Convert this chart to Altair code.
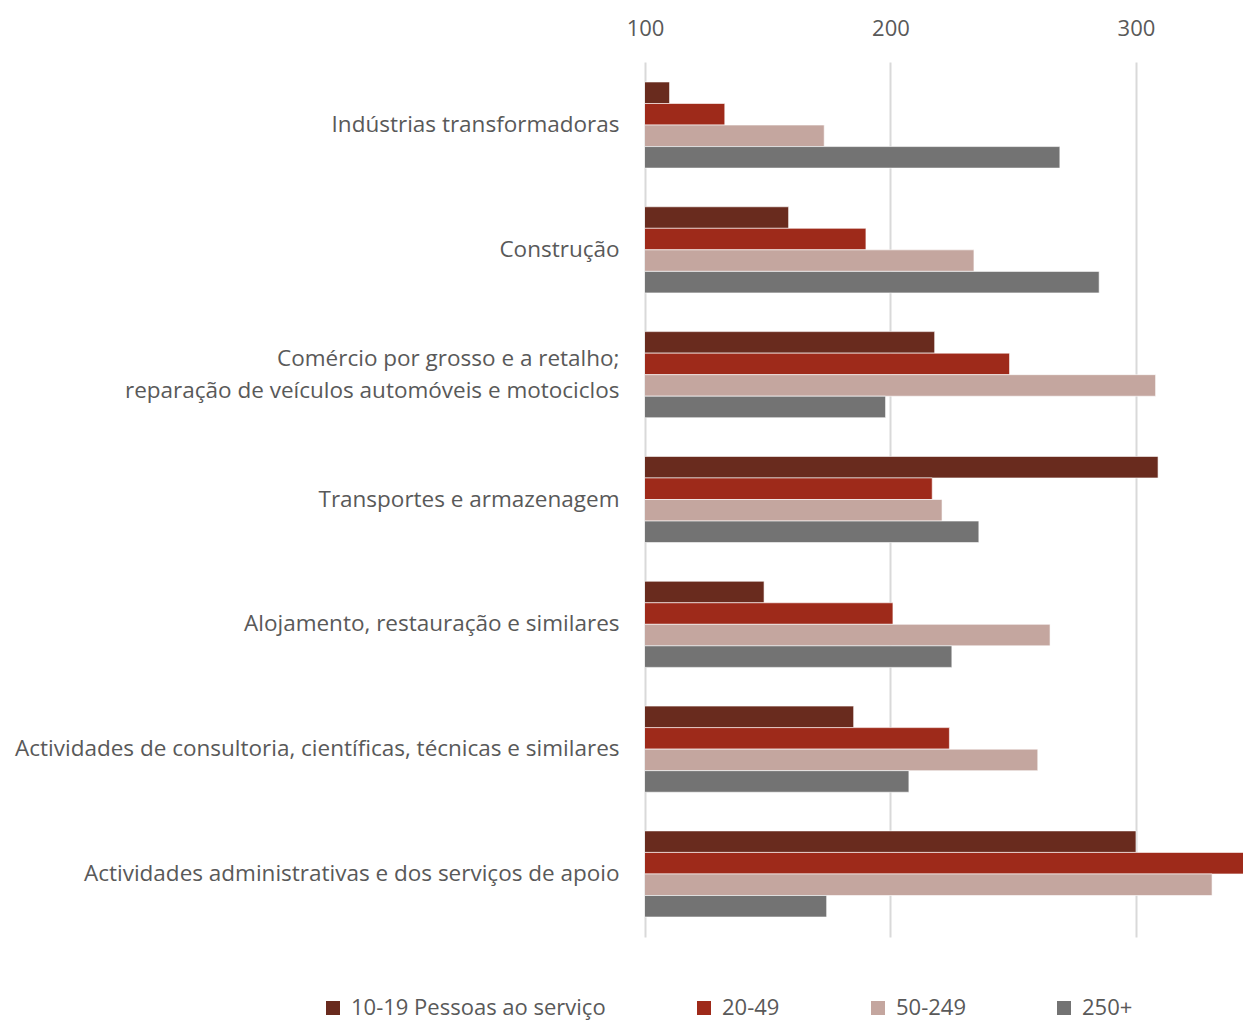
import altair as alt
import pandas as pd

categories = [
    "Indústrias transformadoras",
    "Construção",
    "Comércio por grosso e a retalho;|reparação de veículos automóveis e motociclos",
    "Transportes e armazenagem",
    "Alojamento, restauração e similares",
    "Actividades de consultoria, científicas, técnicas e similares",
    "Actividades administrativas e dos serviços de apoio",
]
series = ["10-19 Pessoas ao serviço", "20-49", "50-249", "250+"]
values_10_19 = [110, 158.5, 218, 309, 148.5, 185, 300]
values_20_49 = [132.5, 190, 248.5, 217, 201, 224, 348]
values_50_249 = [173, 234, 308, 221, 265, 260, 331]
values_250 = [269, 285, 198, 236, 225, 207.5, 174]
colors = ["#692B1E", "#9E2A1A", "#C4A69F", "#737373"]

rows = []
for s, vals in zip(series, [values_10_19, values_20_49, values_50_249, values_250]):
    for c, v in zip(categories, vals):
        rows.append({"cat": c, "series": s, "value": v})
df = pd.DataFrame(rows)

font = "Open Sans"
txt = "#595959"

chart = alt.Chart(df).mark_bar(clip=True, stroke="white", strokeWidth=0.6).encode(
    y=alt.Y("cat:N", sort=categories, title=None,
            scale=alt.Scale(paddingInner=0.31, paddingOuter=0.16),
            axis=alt.Axis(labelExpr="split(datum.label, '|')", labelFontSize=22.5,
                          labelColor=txt, labelFont=font, labelPadding=26,
                          labelOffset={"condition": {"test": "indexof(datum.label, '|') >= 0", "value": -16}, "value": 0},
                          labelLineHeight=32, domain=False, ticks=False, labelLimit=700)),
    yOffset=alt.YOffset("series:N", sort=series),
    x=alt.X("value:Q", title=None,
            scale=alt.Scale(domain=[100, 343.6], zero=False, nice=False),
            axis=alt.Axis(orient="top", values=[100, 200, 300], labelFontSize=22,
                          labelColor=txt, labelFont=font, labelPadding=22, labelFlush=False,
                          domain=False, ticks=False, grid=True, gridColor="#D9D9D9",
                          gridWidth=2)),
    x2=alt.value(0),
    color=alt.Color("series:N", sort=series,
                    scale=alt.Scale(domain=series, range=colors),
                    legend=alt.Legend(title=None, orient="none", legendX=-323, legendY=935,
                                      direction="horizontal", columns=4, columnPadding=87,
                                      symbolType="square", symbolSize=196,
                                      symbolStrokeWidth=0, labelFontSize=22, labelLimit=500,
                                      labelColor=txt, labelFont=font, labelOffset=7)),
).properties(
    width=598, height=875,
    autosize=alt.AutoSizeParams(type="none"),
    padding={"left": 645, "top": 62, "right": 0, "bottom": 86},
).configure_view(stroke=None)

chart.save("out.html", embed_options={"renderer": "svg", "actions": False})
